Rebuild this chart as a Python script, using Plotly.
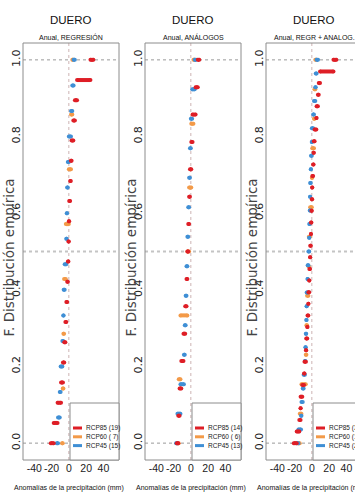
import plotly.graph_objects as go

W, H = 355, 497

basin = "DUERO"
subtitles = ["Anual, REGRESIÓN", "Anual, ANÁLOGOS", "Anual, REGR + ANALOG."]
scenarios = ["RCP85", "RCP60", "RCP45"]
draw_order = ["RCP60", "RCP45", "RCP85"]
colors = {"RCP85": "#DE1E26", "RCP60": "#F39A48", "RCP45": "#3F8FD5"}

x_ticks = [-40, -20, 0, 20, 40]
y_ticks = [0.0, 0.2, 0.4, 0.6, 0.8, 1.0]
x_title = "Anomalías de la precipitación (mm)"
y_title = "F. Distribución empírica"

# Annual precipitation anomalies (mm), one value per climate model
reg_rcp85 = [-17.5, -13.0, -9.0, -6.8, -5.3, -4.0, -2.9, -1.9, -1.1, -0.5,
             0.0, 0.4, 1.5, 2.3, 3.2, 5.2, 7.0, 9.5, 25.0]
reg_rcp60 = [-7.0, -6.3, -5.5, -3.5, 0.0, 2.5, 4.0]
reg_rcp45 = [-12.5, -10.5, -9.5, -7.5, -6.5, -6.0, -4.8, -3.0, -2.4, -2.0,
             -1.2, 0.0, 2.5, 4.0, 5.5]

ana_rcp85 = [-14.5, -13.0, -11.0, -8.5, -6.5, -5.0, -4.0, -3.0, -2.0, -1.0,
             0.5, 2.0, 5.5, 8.0]
ana_rcp60 = [-14.0, -12.0, -4.0, -2.0, 0.5, 3.0]
ana_rcp45 = [-15.5, -12.0, -8.0, -7.0, -6.0, -5.0, -4.0, -3.0, -2.0, -1.0,
             0.0, 1.5, 4.5]

regression = {"RCP85": reg_rcp85, "RCP60": reg_rcp60, "RCP45": reg_rcp45}
analogues = {"RCP85": ana_rcp85, "RCP60": ana_rcp60, "RCP45": ana_rcp45}
combined = {s: regression[s] + analogues[s] for s in scenarios}
panels = [regression, analogues, combined]

# layout in pixels
PANEL_LEFT = [23, 145, 266]
PANEL_W = 96
BOX_TOP, BOX_BOT = 43, 460
X_RANGE = [-53, 58]
PX_PER_MM = PANEL_W / (X_RANGE[1] - X_RANGE[0])
Y_RANGE = [-0.044, 1.044]

NARROW = "Liberation Sans Narrow, Arial Narrow, sans-serif"
WIDE = "DejaVu Sans, Verdana, sans-serif"


def px(x):
    return x / W


def py(y):
    return 1 - y / H


def label(x, y, text, size, family=NARROW, color="#111", angle=0, xanchor="center"):
    return dict(x=px(x), y=py(y), xref="paper", yref="paper", text=text,
                showarrow=False, textangle=angle, xanchor=xanchor, yanchor="middle",
                font=dict(family=family, size=size, color=color, weight="normal"))


def ecdf_steps(values):
    """Horizontal pieces of the empirical distribution step function."""
    v = sorted(values)
    n = len(v)
    dr = 0.08 * (v[-1] - v[0])
    knots = [v[0] - dr] + v + [v[-1] + dr]
    xs, ys = [], []
    for k in range(n + 1):
        xs += [knots[k], knots[k + 1], None]
        ys += [k / n, k / n, None]
    return xs, ys


fig = go.Figure()
shapes, annotations = [], []

for i, data in enumerate(panels):
    idx = "" if i == 0 else str(i + 1)
    xa, ya = "x" + idx, "y" + idx
    left = PANEL_LEFT[i]
    right = min(left + PANEL_W, W)
    x_hi = X_RANGE[0] + (right - left) / PX_PER_MM

    for s in draw_order:
        xs, ys = ecdf_steps(data[s])
        fig.add_trace(go.Scatter(
            x=xs, y=ys, mode="lines+markers", xaxis=xa, yaxis=ya,
            line=dict(color=colors[s], width=4),
            marker=dict(color=colors[s], size=4, line=dict(width=0)),
            showlegend=False, hoverinfo="skip", cliponaxis=False))

    fig.update_layout(**{
        "xaxis" + idx: dict(
            domain=[px(left), px(right)], range=[X_RANGE[0], x_hi],
            anchor=ya, tickvals=x_ticks, ticktext=[str(t) for t in x_ticks],
            tickangle=0, ticks="", showgrid=False, zeroline=False, showline=False,
            tickfont=dict(family=NARROW, size=10.5, color="#222")),
        "yaxis" + idx: dict(
            domain=[py(BOX_BOT), py(BOX_TOP)], range=Y_RANGE, anchor=xa,
            tickvals=y_ticks, tickformat=".1f", tickangle=-90, ticks="",
            showgrid=False, zeroline=False, showline=False,
            tickfont=dict(family=WIDE, size=11, color="#222")),
    })

    # reference lines: F = 0, 1 and median, zero anomaly
    for yv, col, w in [(0, "#9a9a9a", 1), (1, "#9a9a9a", 1), (0.5, "#c4c4c4", 2)]:
        shapes.append(dict(type="line", xref=xa + " domain", yref=ya,
                           x0=0, x1=1, y0=yv, y1=yv, layer="below",
                           line=dict(color=col, width=w, dash="dot")))
    shapes.append(dict(type="line", xref=xa, yref=ya + " domain",
                       x0=0, x1=0, y0=0, y1=1, layer="below",
                       line=dict(color="#cdb3b3", width=1, dash="dot")))

    # plot frame
    shapes.append(dict(type="rect", xref="paper", yref="paper",
                       x0=px(left), x1=px(left + PANEL_W),
                       y0=py(BOX_BOT), y1=py(BOX_TOP),
                       line=dict(color="#8c8c8c", width=1)))

    # titles
    cx = left + PANEL_W / 2
    annotations.append(label(cx, 20, basin, 11.5))
    annotations.append(label(cx, 37, subtitles[i], 7))
    annotations.append(label(cx - 2, 488, x_title, 7))
    annotations.append(label(left - 15, (BOX_TOP + BOX_BOT) / 2 + 6, y_title, 13.5,
                             family=WIDE, color="#444", angle=-90))

    # legend box
    lx0, lx1 = left + 47, left + PANEL_W
    shapes.append(dict(type="rect", xref="paper", yref="paper",
                       x0=px(lx0), x1=px(lx1), y0=py(BOX_BOT), y1=py(403),
                       fillcolor="white", line=dict(color="#8c8c8c", width=1)))
    for j, s in enumerate(scenarios):
        yy = 428 + j * 8.8
        shapes.append(dict(type="line", xref="paper", yref="paper",
                           x0=px(lx0 + 3), x1=px(lx0 + 12), y0=py(yy), y1=py(yy),
                           line=dict(color=colors[s], width=3)))
        txt = f"{s} ({len(data[s]):2d})".replace(" ", "&nbsp;")
        annotations.append(label(lx0 + 14, yy, txt, 6.5, color="#222", xanchor="left"))

fig.update_layout(width=W, height=H, margin=dict(l=0, r=0, t=0, b=0),
                  paper_bgcolor="white", plot_bgcolor="white",
                  shapes=shapes, annotations=annotations)

fig.write_html("out.html")
